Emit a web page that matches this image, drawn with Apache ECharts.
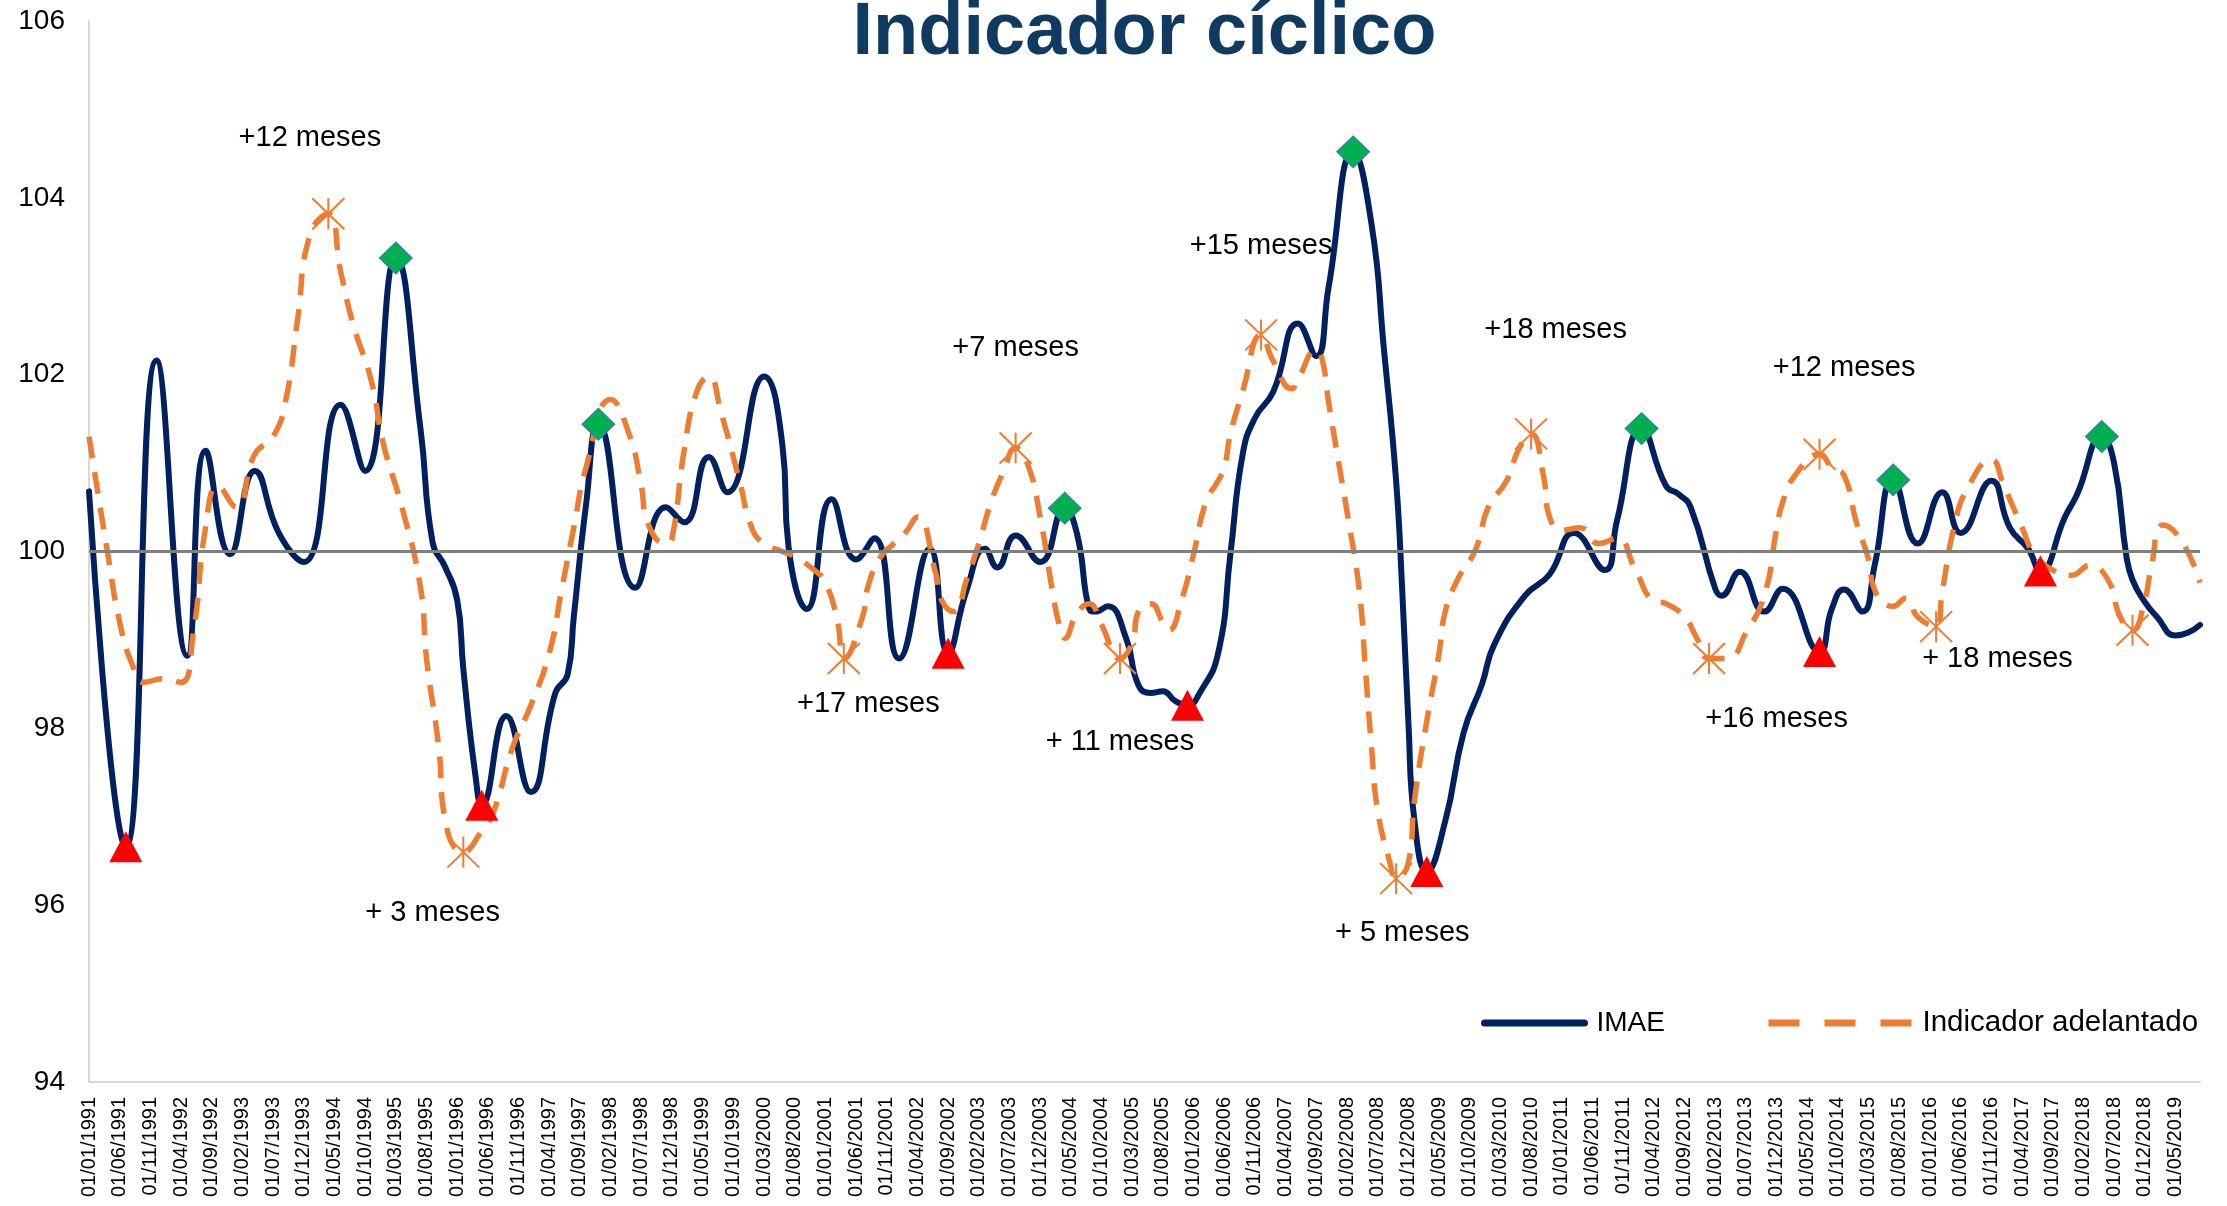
<!DOCTYPE html>
<html>
<head>
<meta charset="utf-8">
<script src="https://cdn.jsdelivr.net/npm/echarts@6/dist/echarts.min.js"></script>
<style>
html,body{margin:0;padding:0;background:#ffffff;}
#chart{width:2227px;height:1206px;}
</style>
</head>
<body>
<div id="chart"></div>
<script>
const FONT = '"Liberation Sans", Arial, Helvetica, sans-serif';

// ---- Category axis: monthly, 01/01/1991 .. 01/09/2019 ----
const firstYear = 1991;
const monthCount = 345;
const categories = [];
for (let i = 0; i < monthCount; i++) {
  const y = firstYear + Math.floor(i / 12), m = i % 12 + 1;
  categories.push('01/' + String(m).padStart(2, '0') + '/' + y);
}

// ---- IMAE ----
const imaeDates = ['1991-01','1991-07','1991-12','1992-05','1992-08','1992-12','1993-04','1993-08','1993-12','1994-06','1994-10','1995-03','1995-07','1995-09','1995-11','1996-01','1996-02','1996-04','1996-05','1996-09','1997-01','1997-05','1997-07','1997-08','1997-10','1997-12','1998-06','1998-11','1999-02','1999-06','1999-09','2000-03','2000-06','2000-07','2000-10','2001-02','2001-06','2001-09','2002-01','2002-06','2002-09','2002-12','2003-03','2003-05','2003-08','2003-12','2004-04','2004-06','2004-08','2004-09','2004-11','2005-02','2005-04','2005-06','2005-08','2005-10','2005-12','2006-02','2006-05','2006-07','2006-09','2006-11','2007-02','2007-06','2007-09','2007-11','2008-03','2008-06','2008-08','2008-10','2008-11','2008-12','2009-01','2009-03','2009-06','2009-09','2009-12','2010-02','2010-07','2010-11','2011-03','2011-08','2011-10','2012-02','2012-06','2012-08','2012-10','2013-02','2013-03','2013-06','2013-10','2014-01','2014-07','2014-09','2014-11','2015-02','2015-04','2015-07','2015-11','2016-03','2016-06','2016-11','2017-02','2017-05','2017-07','2017-11','2018-01','2018-05','2018-07','2018-09','2018-10','2018-12','2019-02','2019-05','2019-07','2019-09'];
const imaeValues = [100.68,96.66,102.16,98.82,101.14,99.97,100.91,100.20,99.88,101.66,100.91,103.32,101.40,100.10,99.83,99.45,98.67,97.45,97.13,98.14,97.28,98.40,98.61,99.26,100.53,101.44,99.59,100.50,100.33,101.07,100.67,101.98,101.20,100.05,99.35,100.59,99.91,100.15,98.79,100.03,98.85,99.56,100.03,99.82,100.18,99.88,100.49,100.20,99.35,99.32,99.38,99.02,98.49,98.40,98.42,98.31,98.26,98.40,98.85,99.97,101.10,101.51,101.81,102.58,102.21,102.99,104.52,103.70,102.30,100.80,99.56,98.08,96.95,96.38,96.95,97.95,98.50,98.95,99.50,99.74,100.21,99.79,100.35,101.39,100.74,100.65,100.50,99.58,99.50,99.77,99.32,99.58,98.87,99.35,99.57,99.32,99.85,100.81,100.09,100.67,100.21,100.80,100.27,100.03,99.78,100.39,100.65,101.30,101.00,99.95,99.68,99.43,99.26,99.05,99.08,99.17];

// ---- Indicador adelantado ----
const leadDates = ['1991-01','1991-04','1991-06','1991-08','1991-10','1992-01','1992-04','1992-06','1992-08','1992-10','1993-01','1993-04','1993-07','1993-09','1993-11','1994-01','1994-04','1994-06','1994-08','1994-11','1995-01','1995-04','1995-07','1995-08','1995-10','1995-11','1996-02','1996-05','1996-07','1996-10','1997-01','1997-04','1997-06','1997-08','1997-10','1998-02','1998-05','1998-07','1998-08','1998-11','1998-12','1999-02','1999-04','1999-06','1999-08','1999-11','2000-01','2000-03','2000-06','2000-08','2000-11','2001-01','2001-03','2001-04','2001-07','2001-08','2001-10','2001-12','2002-02','2002-04','2002-07','2002-08','2002-10','2002-12','2003-02','2003-04','2003-06','2003-08','2003-10','2003-12','2004-02','2004-03','2004-04','2004-06','2004-08','2004-10','2005-01','2005-03','2005-04','2005-06','2005-08','2005-09','2005-11','2006-01','2006-03','2006-05','2006-06','2006-07','2006-09','2006-12','2007-02','2007-05','2007-06','2007-09','2007-10','2007-11','2008-01','2008-02','2008-04','2008-05','2008-06','2008-07','2008-09','2008-10','2008-12','2009-01','2009-03','2009-05','2009-06','2009-08','2009-11','2010-01','2010-04','2010-06','2010-08','2010-10','2010-11','2011-01','2011-04','2011-07','2011-10','2012-01','2012-04','2012-06','2012-09','2012-11','2013-01','2013-04','2013-07','2013-10','2013-12','2014-01','2014-03','2014-07','2014-09','2014-11','2015-01','2015-03','2015-04','2015-07','2015-09','2015-11','2016-02','2016-03','2016-05','2016-07','2016-11','2017-01','2017-04','2017-06','2017-09','2017-12','2018-03','2018-06','2018-08','2018-10','2018-12','2019-01','2019-03','2019-06','2019-09'];
const leadValues = [101.30,100.00,99.20,98.73,98.52,98.56,98.52,99.08,100.27,100.74,100.50,101.10,101.30,101.69,102.63,103.58,103.82,103.17,102.58,101.93,101.21,100.50,99.60,98.79,97.78,96.97,96.60,96.84,97.07,97.78,98.26,98.85,99.56,100.27,100.95,101.72,101.33,100.74,100.33,100.09,100.15,101.15,101.80,101.98,101.57,100.80,100.27,100.09,100.00,99.94,99.80,99.65,99.20,98.79,99.25,99.62,99.94,100.08,100.21,100.39,99.75,99.44,99.32,99.68,100.09,100.56,100.90,101.17,100.98,100.39,99.55,99.20,99.02,99.30,99.41,99.17,98.79,98.97,99.32,99.41,99.20,99.11,99.44,99.97,100.56,100.80,100.95,101.33,101.81,102.45,102.15,101.84,101.95,102.28,102.16,101.69,100.86,100.45,99.56,98.67,97.78,97.07,96.48,96.30,96.48,97.19,98.08,98.85,99.32,99.68,100.03,100.50,100.80,101.16,101.33,100.86,100.39,100.24,100.27,100.09,100.15,99.79,99.44,99.41,99.26,99.02,98.79,98.79,99.08,99.50,100.25,100.56,100.86,101.10,100.95,100.86,100.33,99.91,99.56,99.38,99.47,99.26,99.15,99.55,100.30,100.70,101.04,100.75,100.27,99.97,99.79,99.73,99.84,99.68,99.26,99.11,99.45,99.80,100.30,100.12,99.65];

// ---- Turning points ----
const imaePeakDates   = ['1995-03','1997-12','2004-04','2008-03','2012-02','2015-07','2018-05'];
const imaeTroughDates = ['1991-07','1996-05','2002-09','2005-12','2009-03','2014-07','2017-07'];
const leadTurnDates   = ['1994-04','1996-02','2001-04','2003-08','2005-01','2006-12','2008-10','2010-08','2013-01','2014-07','2016-02','2018-10'];

// ---- Annotation texts ----
const noteTexts  = ['+12 meses','+ 3 meses','+17 meses','+7 meses','+ 11 meses','+15 meses','+ 5 meses','+18 meses','+12 meses','+16 meses','+ 18 meses'];
const noteDates  = ['1994-01','1995-09','2001-08','2003-08','2005-01','2006-12','2008-11','2010-12','2014-11','2013-12','2016-12'];
const noteLevels = [104.68,95.91,98.28,102.30,97.84,103.46,95.69,102.51,102.07,98.10,98.78];

function monthIndex(d) {
  const p = d.split('-').map(Number);
  return (p[0] - firstYear) * 12 + (p[1] - 1);
}
const imaeData = imaeDates.map((d, i) => [monthIndex(d), imaeValues[i]]);
const leadData = leadDates.map((d, i) => [monthIndex(d), leadValues[i]]);
const pick = (dates, srcDates, srcVals) => dates.map(d => [monthIndex(d), srcVals[srcDates.indexOf(d)]]);

const NAVY = '#002060', ORANGE = '#ED7D31';

const chart = echarts.init(document.getElementById('chart'), null, {renderer: 'canvas', width: 2227, height: 1206});

const option = {
  animation: false,
  backgroundColor: '#ffffff',
  grid: {left: 89, right: 27, top: 21, bottom: 124, containLabel: false},
  xAxis: {
    type: 'category', data: categories, boundaryGap: false,
    axisLine: {show: true, lineStyle: {color: '#D9D9D9', width: 2}},
    axisTick: {show: false},
    splitLine: {show: false},
    axisLabel: {interval: 4, rotate: 90, fontSize: 20, fontFamily: FONT, color: '#000000', margin: 15}
  },
  yAxis: {
    type: 'value', min: 94, max: 106, interval: 2,
    axisLine: {show: true, lineStyle: {color: '#D9D9D9', width: 2}},
    axisTick: {show: false},
    splitLine: {show: false},
    axisLabel: {fontSize: 28, fontFamily: FONT, color: '#000000', margin: 24}
  },
  legend: [
    {
      data: [{name: 'IMAE', itemStyle: {opacity: 0}, lineStyle: {color: NAVY, width: 7, type: 'solid'}}],
      left: 1481, top: 1009, padding: 0, itemWidth: 100, itemHeight: 7, selectedMode: false,
      textStyle: {fontSize: 28, fontFamily: FONT, color: '#000000', padding: [0, 0, 0, 7]}
    },
    {
      data: [{name: 'Indicador adelantado', itemStyle: {opacity: 0}, lineStyle: {color: ORANGE, width: 7, type: [31, 25]}}],
      left: 1765, top: 1008, padding: 0, itemWidth: 143, itemHeight: 7, selectedMode: false,
      textStyle: {fontSize: 29.5, fontFamily: FONT, color: '#000000', padding: [0, 0, 0, 6]}
    }
  ],
  series: [
    {
      name: 'IMAE', type: 'line', data: imaeData, smooth: 0.5, symbol: 'none', z: 2,
      lineStyle: {color: NAVY, width: 6, cap: 'round'}, itemStyle: {color: NAVY}
    },
    {
      name: 'Indicador adelantado', type: 'line', data: leadData, smooth: 0.5, symbol: 'none', z: 3,
      lineStyle: {color: ORANGE, width: 5.5, type: [22, 14]}, itemStyle: {color: ORANGE},
      markLine: {
        silent: true, symbol: 'none', label: {show: false}, z: 4,
        lineStyle: {color: '#7F7F7F', width: 3, type: 'solid'},
        data: [{yAxis: 100}]
      }
    },
    {
      name: 'peaks', type: 'scatter', data: pick(imaePeakDates, imaeDates, imaeValues), z: 10,
      symbol: 'diamond', symbolSize: [33, 32],
      itemStyle: {color: '#00B050', borderColor: '#4472C4', borderWidth: 1, opacity: 1}
    },
    {
      name: 'troughs', type: 'scatter', data: pick(imaeTroughDates, imaeDates, imaeValues), z: 10,
      symbol: 'triangle', symbolSize: [33, 31],
      itemStyle: {color: '#FF0000', opacity: 1}
    },
    {
      name: 'lead turns', type: 'scatter', data: pick(leadTurnDates, leadDates, leadValues), z: 10,
      symbol: 'path://M0,0L20,20M20,0L0,20M10,0L10,20', symbolSize: [32, 31], symbolKeepAspect: false,
      itemStyle: {color: 'rgba(0,0,0,0)', borderColor: ORANGE, borderWidth: 2, opacity: 1}
    }
  ]
};
chart.setOption(option);

// Title and annotations placed via axis conversion
const gridLeft = 89, gridRight = 2227 - 27;
const graphics = [{
  type: 'text', z: 100,
  style: {x: (gridLeft + gridRight) / 2, y: 34, text: 'Indicador cíclico', align: 'center', verticalAlign: 'middle',
          font: 'bold 74px ' + FONT, fill: '#0F3A62'}
}];
noteTexts.forEach((t, i) => {
  const p = chart.convertToPixel({gridIndex: 0}, [monthIndex(noteDates[i]), noteLevels[i]]);
  graphics.push({
    type: 'text', z: 100,
    style: {x: p[0], y: p[1], text: t, align: 'center', verticalAlign: 'middle', font: '29px ' + FONT, fill: '#000000'}
  });
});
chart.setOption({graphic: graphics});
</script>
</body>
</html>
